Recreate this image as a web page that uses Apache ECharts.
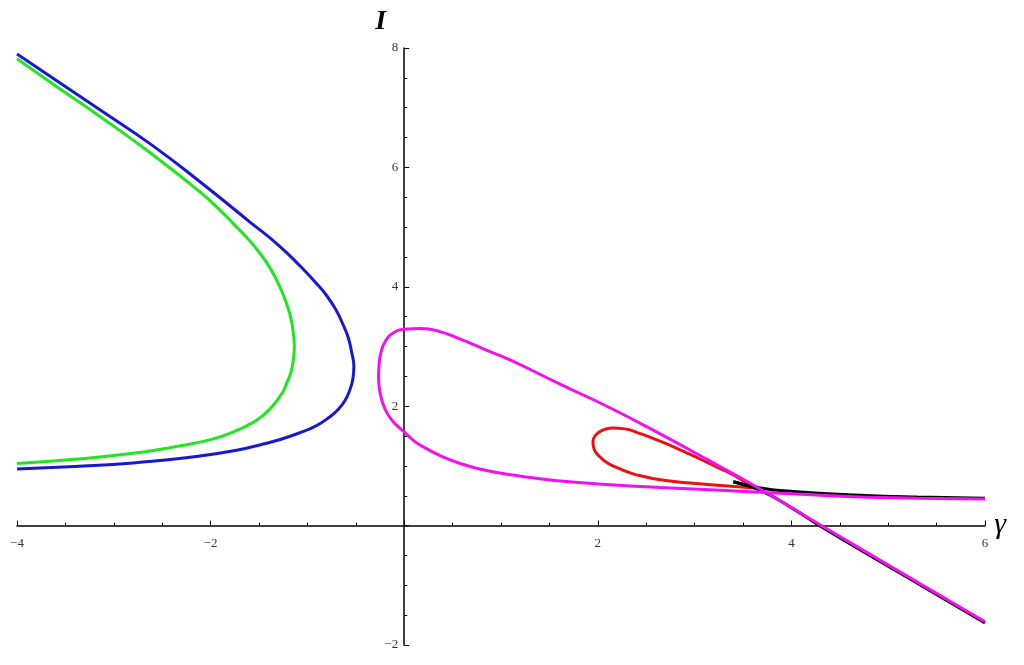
<!DOCTYPE html>
<html>
<head>
<meta charset="utf-8">
<script src="https://cdn.jsdelivr.net/npm/echarts@6/dist/echarts.min.js"></script>
<style>
  html, body { margin: 0; padding: 0; background: #fff; }
  #main { width: 1024px; height: 665px; }
</style>
</head>
<body>
<div id="main"></div>
<script>
// curves, [gamma, I]
var blueCurve = [
  [-4, 7.90], [-3.57, 7.43], [-3.14, 6.96], [-2.62, 6.39], [-2.11, 5.76], [-1.59, 5.08],
  [-1.30, 4.70], [-1.07, 4.34], [-0.92, 4.08], [-0.80, 3.85], [-0.70, 3.60],
  [-0.63, 3.36], [-0.58, 3.16], [-0.545, 2.92], [-0.52, 2.66], [-0.53, 2.46],
  [-0.56, 2.28], [-0.61, 2.10], [-0.68, 1.95], [-0.77, 1.82], [-0.90, 1.68],
  [-1.07, 1.56], [-1.42, 1.38], [-2.0, 1.19], [-2.8, 1.05], [-3.4, 0.99], [-4, 0.95]
];
var greenCurve = [
  [-4, 7.82], [-3.57, 7.33], [-3.14, 6.85], [-2.62, 6.24], [-2.11, 5.59], [-1.90, 5.28],
  [-1.76, 5.05], [-1.60, 4.78], [-1.49, 4.56], [-1.38, 4.30], [-1.29, 4.02],
  [-1.22, 3.74], [-1.17, 3.47], [-1.145, 3.22], [-1.135, 3.0], [-1.145, 2.78],
  [-1.17, 2.57], [-1.21, 2.40], [-1.25, 2.25], [-1.35, 2.02], [-1.45, 1.86],
  [-1.57, 1.72], [-1.75, 1.58], [-2.0, 1.44], [-2.4, 1.31], [-2.8, 1.21],
  [-3.4, 1.11], [-4, 1.04]
];
var magentaCurve = [
  [6, 0.445], [5.3, 0.46], [4.71, 0.48], [3.68, 0.56], [2.64, 0.64], [1.80, 0.72],
  [1.10, 0.85], [0.80, 0.94], [0.58, 1.04], [0.40, 1.15], [0.23, 1.29], [0.10, 1.42],
  [0, 1.57], [-0.09, 1.70], [-0.16, 1.84], [-0.21, 2.00], [-0.24, 2.16],
  [-0.258, 2.32], [-0.265, 2.50], [-0.26, 2.68], [-0.24, 2.90], [-0.19, 3.10],
  [-0.11, 3.23], [0, 3.29], [0.165, 3.30], [0.37, 3.25], [0.60, 3.11], [0.85, 2.94],
  [1.10, 2.77], [1.61, 2.37], [2.13, 1.97], [2.64, 1.54], [3.16, 1.08], [3.68, 0.61],
  [4.33, -0.02], [5.2, -0.85], [6, -1.61]
];
var redCurve = [
  [3.62, 0.63], [3.20, 0.68], [2.68, 0.76], [2.40, 0.85], [2.23, 0.95], [2.10, 1.05],
  [2.01, 1.17], [1.96, 1.29], [1.95, 1.41], [1.98, 1.52], [2.05, 1.60], [2.15, 1.635],
  [2.28, 1.62], [2.44, 1.54], [2.65, 1.41], [2.85, 1.27], [3.05, 1.12], [3.26, 0.96],
  [3.42, 0.83], [3.54, 0.71], [3.68, 0.60]
];
var blackUpper = [
  [3.40, 0.735], [3.68, 0.63], [4.02, 0.57], [4.71, 0.51], [5.3, 0.48], [6, 0.46]
];
var blackLower = [
  [3.40, 0.735], [3.68, 0.59], [4.02, 0.28], [4.33, -0.04], [5.2, -0.87], [6, -1.63]
];
var xTicks = [-4, -2, 0, 2, 4, 6];
var yTicks = [-2, 0, 2, 4, 6, 8];

function tickLabel(v) {
  if (v === 0) return '';
  return v < 0 ? '\u2212' + Math.abs(v) : String(v);
}

var W = 1024, H = 665;
var gLeft = 17, gRight = 39, gTop = 48, gBottom = 20;
var xMin = xTicks[0], xMax = xTicks[xTicks.length - 1];
var yMin = yTicks[0], yMax = yTicks[yTicks.length - 1];
// move the axes from the grid edges to the origin
var xAxisOffset = -(0 - yMin) / (yMax - yMin) * (H - gTop - gBottom);
var yAxisOffset = -(0 - xMin) / (xMax - xMin) * (W - gLeft - gRight);

var chart = echarts.init(document.getElementById('main'));

function curve(data, color, width) {
  return {
    type: 'line',
    data: data,
    showSymbol: false,
    smooth: 0.5,
    lineStyle: { color: color, width: width || 3 },
    silent: true
  };
}

var tickStyle = { color: '#000', width: 1 };

var option = {
  animation: false,
  backgroundColor: '#fff',
  grid: {
    left: gLeft, right: gRight, top: gTop, bottom: gBottom,
    containLabel: false, outerBoundsMode: 'none'
  },
  xAxis: {
    type: 'value',
    min: xMin,
    max: xMax,
    interval: 2,
    position: 'bottom',
    offset: xAxisOffset,
    name: '\u03b3',
    nameLocation: 'end',
    nameGap: 8,
    nameTextStyle: {
      fontFamily: 'Liberation Serif', fontStyle: 'italic', fontSize: 30,
      color: '#000', padding: [16, 0, 0, 0]
    },
    axisLine: { onZero: false, lineStyle: { color: '#000', width: 1.5 } },
    axisTick: { inside: true, length: 5, lineStyle: tickStyle },
    minorTick: { show: true, splitNumber: 4, length: 3, lineStyle: tickStyle },
    splitLine: { show: false },
    axisLabel: {
      formatter: tickLabel, margin: 11, fontFamily: 'Liberation Serif',
      fontSize: 13, color: '#333', showMinLabel: true, showMaxLabel: true
    }
  },
  yAxis: {
    type: 'value',
    min: yMin,
    max: yMax,
    interval: 2,
    position: 'left',
    offset: yAxisOffset,
    name: 'I',
    nameLocation: 'end',
    nameGap: 12,
    nameTextStyle: {
      fontFamily: 'Liberation Serif', fontStyle: 'italic', fontWeight: 'bold',
      fontSize: 28, color: '#000', align: 'right', padding: [0, 18, 0, 0]
    },
    axisLine: { onZero: false, lineStyle: { color: '#000', width: 1.5 } },
    axisTick: { inside: true, length: 5, lineStyle: tickStyle },
    minorTick: { show: true, splitNumber: 4, length: 3, lineStyle: tickStyle },
    splitLine: { show: false },
    axisLabel: {
      formatter: tickLabel, margin: 6, fontFamily: 'Liberation Serif',
      fontSize: 13, color: '#333', showMinLabel: true, showMaxLabel: true
    }
  },
  series: [
    curve(greenCurve, '#1fe61f'),
    curve(blueCurve, '#1818d0'),
    curve(redCurve, '#ee1010'),
    curve(blackUpper, '#000000', 3),
    curve(blackLower, '#000000', 3),
    curve(magentaCurve, '#f010f0')
  ]
};

chart.setOption(option);
</script>
</body>
</html>
